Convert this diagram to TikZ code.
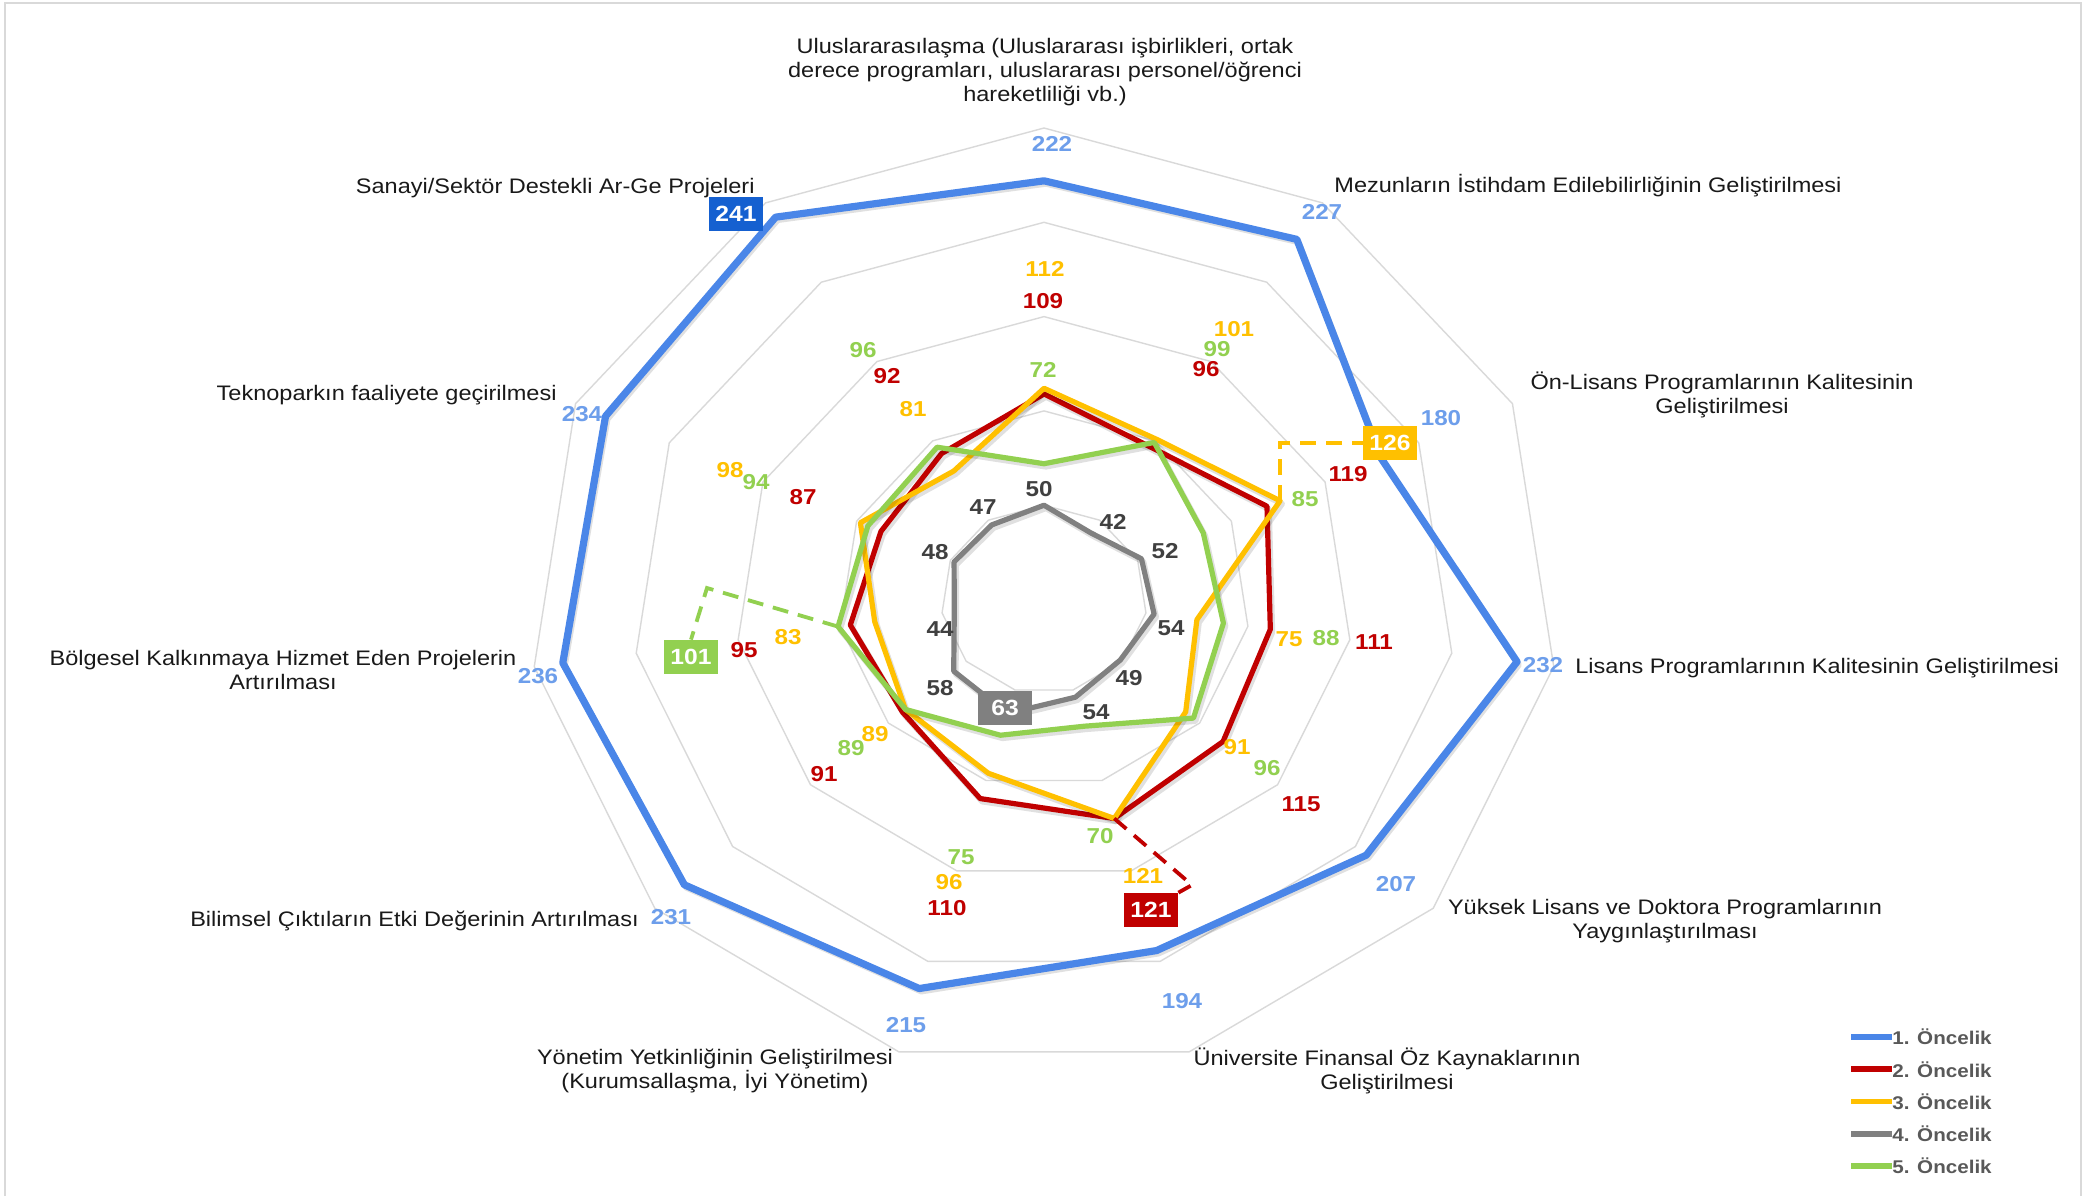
\documentclass[tikz,border=0pt]{standalone}
\usepackage{fontspec}
\setmainfont[FakeStretch=1.12]{Liberation Sans}
\usepackage{tikz}
\usetikzlibrary{positioning}
\definecolor{pblue}{HTML}{4A86E8}
\definecolor{pbluetxt}{HTML}{6D9EEB}
\definecolor{pbluebox}{HTML}{1560D0}
\definecolor{pred}{HTML}{C00000}
\definecolor{pyellow}{HTML}{FFC000}
\definecolor{pgray}{HTML}{808080}
\definecolor{pgraytxt}{HTML}{404040}
\definecolor{pgreen}{HTML}{92D050}
\definecolor{pring}{HTML}{D9D9D9}
\definecolor{plegend}{HTML}{595959}

\begin{document}
\begin{tikzpicture}[x=0.5pt, y=-0.5pt,
            ring/.style={draw=pring, line width=0.7pt},
            serie/.style={line width=2.6pt, line join=round},
            shadowline/.style={line width=2.9pt, line join=round, draw=black, opacity=0.12,
              transform canvas={xshift=1pt, yshift=-1.5pt}},
            leader/.style={line width=1.9pt, dash pattern=on 8pt off 5pt},
            axlbl/.style={font=\fontsize{10.5}{12}\selectfont, text=black!90, align=center, inner sep=0pt},
            val/.style={font=\fontsize{10.8}{12}\selectfont\bfseries, inner sep=0pt},
            valbox/.style={font=\fontsize{11}{12}\selectfont\bfseries, text=white,
              minimum width=27pt, minimum height=17pt, inner sep=0pt},
            legtxt/.style={font=\fontsize{9.2}{11}\selectfont\bfseries, text=plegend, anchor=west, inner sep=0pt}]
            \useasboundingbox (0,0) rectangle (2088,1196);
            \fill[white] (0,0) rectangle (2088,1196);
            \draw[pring, line width=0.7pt] (5,1196) -- (5,3) -- (2081,3) -- (2081,1196);

            % radar grid and data points
            \begin{scope}[shift={(1044,599.5)}, xscale=2.06, yscale=-1.886]
                \foreach \r in {50,100,...,250}
                    \draw[ring] (90:\r) \foreach \k in {1,...,10} { -- ({90-\k*360/11}:\r) } -- cycle;
                \foreach \v [count=\k from 0] in {222,227,180,232,207,194,215,231,236,234,241}
                    \coordinate (b\k) at ({90-\k*360/11}:\v);
                \foreach \v [count=\k from 0] in {109,96,119,111,115,121,110,91,95,87,92}
                    \coordinate (r\k) at ({90-\k*360/11}:\v);
                \foreach \v [count=\k from 0] in {112,101,126,75,91,121,96,89,83,98,81}
                    \coordinate (c\k) at ({90-\k*360/11}:\v);
                \foreach \v [count=\k from 0] in {50,42,52,54,49,54,63,58,44,48,47}
                    \coordinate (g\k) at ({90-\k*360/11}:\v);
                \foreach \v [count=\k from 0] in {72,99,85,88,96,70,75,89,101,94,96}
                    \coordinate (e\k) at ({90-\k*360/11}:\v);
            \end{scope}

            % series
            \foreach \s/\col/\w in {b/pblue/3.6pt, r/pred/2.6pt, c/pyellow/2.6pt, g/pgray/2.6pt, e/pgreen/2.6pt} {
                \draw[shadowline] (\s0) \foreach \k in {1,...,10} { -- (\s\k) } -- cycle;
                \draw[serie, draw=\col, line width=\w] (\s0) \foreach \k in {1,...,10} { -- (\s\k) } -- cycle;
            }

            % axis labels
            \node[axlbl] (ax0) at (1045,72) {Uluslararasılaşma (Uluslararası işbirlikleri, ortak\\derece programları, uluslararası personel/öğrenci\\hareketliliği vb.)};
            \node[axlbl, anchor=west] (ax1) at (1334,186) {Mezunların İstihdam Edilebilirliğinin Geliştirilmesi};
            \node[axlbl] (ax2) at (1722,395) {Ön-Lisans Programlarının Kalitesinin\\Geliştirilmesi};
            \node[axlbl, anchor=west] (ax3) at (1575,668) {Lisans Programlarının Kalitesinin Geliştirilmesi};
            \node[axlbl] (ax4) at (1665,921) {Yüksek Lisans ve Doktora Programlarının\\Yaygınlaştırılması};
            \node[axlbl] (ax5) at (1387,1071) {Üniversite Finansal Öz Kaynaklarının\\Geliştirilmesi};
            \node[axlbl] (ax6) at (715,1071) {Yönetim Yetkinliğinin Geliştirilmesi\\(Kurumsallaşma, İyi Yönetim)};
            \node[axlbl, anchor=east] (ax7) at (639,921) {Bilimsel Çıktıların Etki Değerinin Artırılması};
            \node[axlbl] (ax8) at (283,670) {Bölgesel Kalkınmaya Hizmet Eden Projelerin\\Artırılması};
            \node[axlbl, anchor=east] (ax9) at (557,395) {Teknoparkın faaliyete geçirilmesi};
            \node[axlbl, anchor=east] (ax10) at (755,188) {Sanayi/Sektör Destekli Ar-Ge Projeleri};

            % value labels
            \foreach \t/\x/\y [count=\i] in {222/1052/144, 227/1322/212, 180/1441/418, 232/1543/665, 207/1396/884,
                194/1182/1001, 215/906/1025, 231/671/917, 236/538/676, 234/582/414}
                \node[val, text=pbluetxt] (lb\i) at (\x,\y) {\t};
            \foreach \t/\x/\y [count=\i] in {109/1043/301, 96/1206/369, 119/1348/474, 111/1374/642, 115/1301/804,
                110/947/908, 91/824/774, 95/744/650, 87/803/497, 92/887/376}
                \node[val, text=pred] (lr\i) at (\x,\y) {\t};
            \foreach \t/\x/\y [count=\i] in {112/1045/269, 101/1234/329, 75/1289/639, 91/1237/747, 121/1143/876,
                96/949/882, 89/875/734, 83/788/637, 98/730/470, 81/913/409}
                \node[val, text=pyellow] (lc\i) at (\x,\y) {\t};
            \foreach \t/\x/\y [count=\i] in {50/1039/489, 42/1113/522, 52/1165/551, 54/1171/628, 49/1129/678,
                54/1096/712, 58/940/688, 44/940/629, 48/935/552, 47/983/507}
                \node[val, text=pgraytxt] (lg\i) at (\x,\y) {\t};
            \foreach \t/\x/\y [count=\i] in {72/1043/370, 99/1217/349, 85/1305/499, 88/1326/638, 96/1267/768,
                70/1100/836, 75/961/857, 89/851/748, 94/756/482, 96/863/350}
                \node[val, text=pgreen] (le\i) at (\x,\y) {\t};

            % highlighted values
            \node[valbox, fill=pbluebox] (bx241) at (736,214) {241};
            \node[valbox, fill=pyellow] (bx126) at (1390,443) {126};
            \node[valbox, fill=pred] (bx121) at (1151,910) {121};
            \node[valbox, fill=pgreen] (bx101) at (691,657) {101};
            \node[valbox, fill=pgray] (bx63) at (1005,708) {63};

            \coordinate (gbend) at (707,588);
            \coordinate (rbend) at (1192,885);
            \draw[leader, pyellow] (c2) |- (bx126.west);
            \draw[leader, pgreen] (e8) -- (gbend) -- (bx101.north);
            \draw[leader, pred] (r5) -- (rbend) -- (bx121.north east);

            % legend
            \foreach \col/\t [count=\i] in {pblue/1. Öncelik, pred/2. Öncelik, pyellow/3. Öncelik, pgray/4. Öncelik, pgreen/5. Öncelik} {
                \node[legtxt] (leg\i) at (1892,{1037+(\i-1)*32.25}) {\t};
                \coordinate (legs\i) at (1851,{1037+(\i-1)*32.25});
                \draw[\col, line width=2.8pt] (legs\i) -- (leg\i.west);
            }
        \end{tikzpicture}
\end{document}
